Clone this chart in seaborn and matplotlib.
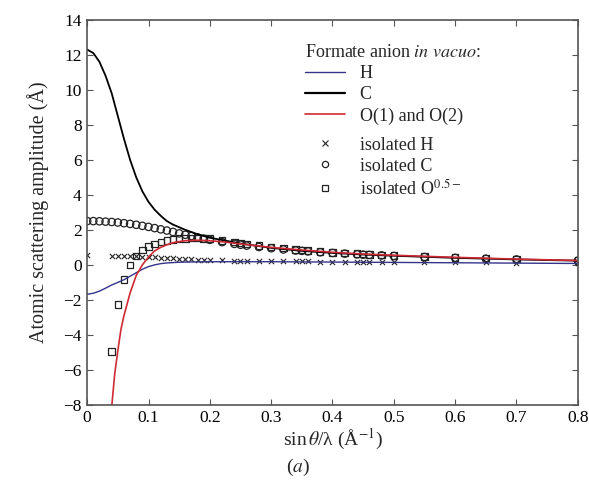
import numpy as np
import pandas as pd
import matplotlib
matplotlib.use('Agg')
import matplotlib.pyplot as plt
from matplotlib.lines import Line2D
import seaborn as sns

# Formate anion in vacuo: smooth scattering curves
x_curve = [0.0, 0.01, 0.02, 0.03, 0.04, 0.05, 0.06, 0.07, 0.08, 0.09, 0.10, 0.11,
           0.12, 0.13, 0.14, 0.15, 0.16, 0.18, 0.20, 0.22, 0.25, 0.30, 0.35, 0.40,
           0.45, 0.50, 0.60, 0.70, 0.80]
h_curve = [-1.68, -1.62, -1.50, -1.33, -1.15, -1.00, -0.85, -0.65, -0.45, -0.25, -0.10, 0.00,
           0.07, 0.11, 0.13, 0.15, 0.16, 0.17, 0.18, 0.18, 0.18, 0.18, 0.17, 0.16,
           0.15, 0.14, 0.12, 0.10, 0.08]
c_curve = [12.3, 12.1, 11.6, 10.8, 9.8, 8.5, 7.2, 6.0, 5.0, 4.2, 3.6, 3.15,
           2.8, 2.5, 2.3, 2.15, 2.0, 1.75, 1.55, 1.42, 1.22, 0.97, 0.8, 0.68,
           0.59, 0.52, 0.4, 0.31, 0.24]

x_o = [0.035, 0.04, 0.045, 0.05, 0.055, 0.06, 0.07, 0.08, 0.09, 0.10, 0.11, 0.12,
       0.13, 0.14, 0.15, 0.16, 0.18, 0.20, 0.22, 0.25, 0.30, 0.35, 0.40, 0.45,
       0.50, 0.60, 0.70, 0.80]
o_curve = [-10.5, -8.1, -6.2, -4.9, -3.7, -2.9, -1.6, -0.6, 0.0, 0.45, 0.8, 1.0,
           1.15, 1.27, 1.33, 1.38, 1.41, 1.38, 1.32, 1.2, 1.0, 0.85, 0.72, 0.62,
           0.55, 0.43, 0.33, 0.25]

# isolated atoms (points)
x_tail = [0.22, 0.24, 0.25, 0.26, 0.28, 0.30, 0.32, 0.34, 0.35, 0.36, 0.38, 0.40,
          0.42, 0.44, 0.45, 0.46, 0.48, 0.50, 0.55, 0.60, 0.65, 0.70, 0.80]

x_iso_h = [0.0, 0.04, 0.05, 0.06, 0.07, 0.08, 0.09, 0.10, 0.11, 0.12, 0.13, 0.14,
           0.15, 0.16, 0.17, 0.18, 0.19, 0.20] + x_tail
iso_h = [0.55, 0.5, 0.5, 0.5, 0.5, 0.49, 0.47, 0.45, 0.43, 0.41, 0.39, 0.37,
         0.35, 0.33, 0.31, 0.29, 0.28, 0.27,
         0.25, 0.23, 0.23, 0.22, 0.22, 0.21, 0.21, 0.2, 0.2, 0.2, 0.19, 0.19,
         0.18, 0.18, 0.18, 0.17, 0.17, 0.17, 0.16, 0.15, 0.14, 0.13, 0.12]

x_iso_c = [0.0, 0.01, 0.02, 0.03, 0.04, 0.05, 0.06, 0.07, 0.08, 0.09, 0.10, 0.11,
           0.12, 0.13, 0.14, 0.15, 0.16, 0.17, 0.18, 0.19, 0.20] + x_tail
iso_c = [2.5, 2.5, 2.49, 2.47, 2.45, 2.42, 2.38, 2.34, 2.29, 2.23, 2.17, 2.1,
         2.03, 1.96, 1.88, 1.8, 1.72, 1.65, 1.57, 1.5, 1.43,
         1.3, 1.2, 1.15, 1.1, 1.02, 0.95, 0.88, 0.82, 0.8, 0.77, 0.72, 0.68,
         0.64, 0.6, 0.58, 0.57, 0.54, 0.51, 0.45, 0.4, 0.35, 0.31, 0.24]

x_iso_o = [0.04, 0.05, 0.06, 0.07, 0.08, 0.09, 0.10, 0.11, 0.12, 0.13, 0.14, 0.15,
           0.16, 0.17, 0.18, 0.19, 0.20] + x_tail
iso_o = [-4.95, -2.25, -0.85, 0.0, 0.5, 0.85, 1.05, 1.2, 1.32, 1.4, 1.46, 1.5,
         1.52, 1.53, 1.53, 1.52, 1.5,
         1.4, 1.3, 1.25, 1.2, 1.1, 1.02, 0.95, 0.88, 0.85, 0.82, 0.77, 0.72,
         0.68, 0.64, 0.62, 0.6, 0.57, 0.54, 0.48, 0.43, 0.38, 0.34, 0.26]

x_ticks = [0, 0.1, 0.2, 0.3, 0.4, 0.5, 0.6, 0.7, 0.8]
x_ticklabels = ['0', '0.1', '0.2', '0.3', '0.4', '0.5', '0.6', '0.7', '0.8']
y_ticks = [-8, -6, -4, -2, 0, 2, 4, 6, 8, 10, 12, 14]

blue = '#34348a'
red = '#d02a35'
mk = '#222222'

sns.set_style('ticks')
plt.rcParams['font.family'] = ['Liberation Serif', 'DejaVu Serif']
plt.rcParams['mathtext.fontset'] = 'stix'
plt.rcParams['axes.edgecolor'] = '#555555'
plt.rcParams['xtick.color'] = '#555555'
plt.rcParams['ytick.color'] = '#555555'

fig = plt.figure(figsize=(5.89, 4.95), dpi=100)
ax = fig.add_axes([0.148, 0.182, 0.833, 0.778])

sns.lineplot(x=x_curve, y=h_curve, ax=ax, color=blue, lw=1.0, sort=False, estimator=None)
sns.lineplot(x=x_curve, y=c_curve, ax=ax, color='black', lw=1.3, sort=False, estimator=None)
sns.lineplot(x=x_o, y=o_curve, ax=ax, color=red, lw=1.2, sort=False, estimator=None)

sns.scatterplot(x=x_iso_h, y=iso_h, ax=ax, marker='x', s=14, color=mk, linewidth=0.8)
sns.scatterplot(x=x_iso_c, y=iso_c, ax=ax, marker='o', s=28, facecolor='none',
                edgecolor=mk, linewidth=0.9)
sns.scatterplot(x=x_iso_o, y=iso_o, ax=ax, marker='s', s=22, facecolor='none',
                edgecolor=mk, linewidth=0.9)

ax.set_xlim(0, 0.8)
ax.set_ylim(-8, 14)
ax.set_xticks(x_ticks)
ax.set_xticklabels(x_ticklabels)
ax.set_yticks(y_ticks)
ax.tick_params(direction='in', top=True, right=True, length=4, labelsize=12.5,
               labelcolor='black', pad=4)
for sp in ax.spines.values():
    sp.set_linewidth(1.2)

ax.set_xlabel('sin$\\,\\mathit{\\theta}$/λ (Å$^{-1}$)', fontsize=14, labelpad=0)
ax.set_ylabel('Atomic scattering amplitude (Å)', fontsize=14.5, labelpad=10)
fig.text(0.506, 0.056, '($a$)', ha='center', va='center', fontsize=14)

line_handles = [
    Line2D([], [], color=blue, lw=1.0),
    Line2D([], [], color='black', lw=1.6),
    Line2D([], [], color=red, lw=1.2),
]
line_labels = ['H', 'C', 'O(1) and O(2)']
mark_handles = [
    Line2D([], [], color=mk, marker='x', ls='none', ms=4, mew=0.8),
    Line2D([], [], color=mk, marker='o', ls='none', ms=4.5, mfc='none', mew=0.9),
    Line2D([], [], color=mk, marker='s', ls='none', ms=4, mfc='none', mew=0.9),
]
mark_labels = ['isolated H', 'isolated C', 'isolated O$^{0.5-}$']

leg1 = ax.legend(line_handles, line_labels, loc='upper left', bbox_to_anchor=(0.43, 0.955),
                 frameon=False, fontsize=13, title='Formate anion $\\mathit{in\\ vacuo}$:',
                 title_fontsize=13, alignment='left', handlelength=2.2,
                 handletextpad=0.8, labelspacing=0.22, borderaxespad=0)
ax.add_artist(leg1)
ax.legend(mark_handles, mark_labels, loc='upper left', bbox_to_anchor=(0.43, 0.715),
          frameon=False, fontsize=13, handlelength=2.2, handletextpad=0.8,
          labelspacing=0.22, borderaxespad=0)

fig.savefig('out.png', dpi=100)
